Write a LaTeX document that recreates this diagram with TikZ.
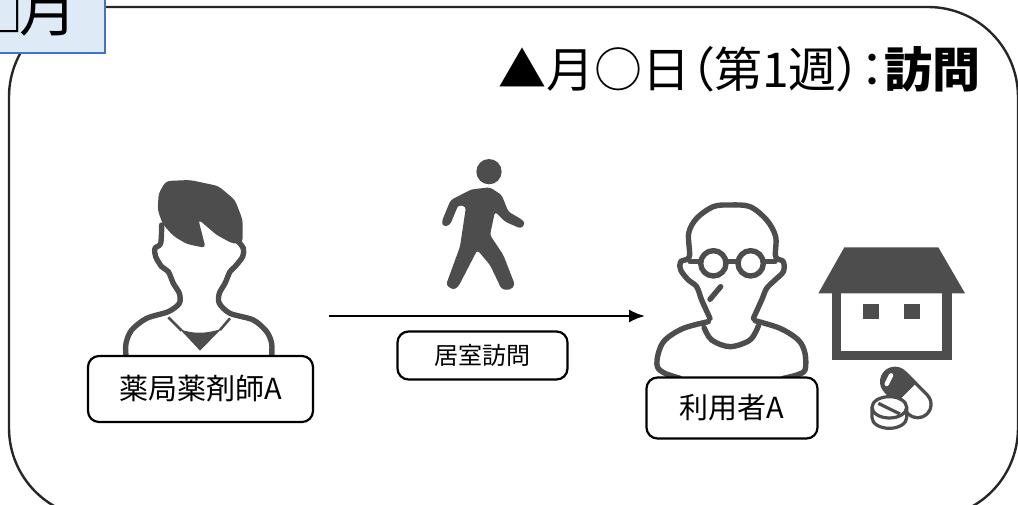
\documentclass[tikz,border=0pt]{standalone}
\usepackage{fontspec}
\setmainfont{Noto Sans CJK JP}
\newfontfamily\titlefont{Noto Sans CJK JP}[RawFeature=+palt]
\usetikzlibrary{arrows.meta}
\definecolor{icongray}{HTML}{4D4D4D}
\definecolor{labelblue}{HTML}{DEEAF6}
\definecolor{labelline}{HTML}{4472C4}
\tikzset{
    namebox/.style={draw=black,line width=2.2pt,rounded corners=11pt,fill=white,align=center,inner sep=0pt},
    iconline/.style={draw=icongray,line width=5.4pt,line join=round,line cap=round},
    iconfill/.style={fill=icongray,draw=none},
}
\begin{document}
\begin{tikzpicture}[x=1pt,y=-1pt]
    \useasboundingbox (0,0) rectangle (1018,505);
    % outer frame
    \draw[line width=2.4pt,color=black!85,rounded corners=90pt] (9,7) rectangle (1018,518);
    \node[draw=labelline,fill=labelblue,line width=1.6pt,minimum width=166pt,minimum height=84pt,inner sep=0pt] (monthlabel) at (22,11)
        {\fontsize{58}{58}\selectfont □\kern-5pt 月};
    \node[anchor=base east,inner sep=0pt] (titletext) at (981,88)
        {\fontsize{48}{48}\selectfont ▲月○日{\titlefont （}第1週{\titlefont ）：}{\bfseries 訪問}};

    % pharmacist
    \begin{scope}[shift={(90,160)},scale=1/3]
        \draw[iconline] plot[smooth,tension=0.5] coordinates {(215,195) (212,250) (195,265) (197,290) (215,320) (235,335) (250,370) (268,400) (268,430) (235,455) (170,475) (125,510) (108,550) (108,590)};
        \draw[iconline] plot[smooth,tension=0.5] coordinates {(445,245) (460,265) (458,290) (435,320) (420,335) (405,370) (388,400) (388,430) (420,460) (490,480) (530,515) (545,550) (545,590)};
        \draw[draw=icongray,line width=2.6pt] (235,472) -- (275,512);
        \draw[draw=icongray,line width=2.6pt] (420,475) -- (390,510);
        \fill[iconfill] (270,508) .. controls (310,522) and (350,522) .. (395,506) -- (330,572) -- cycle;
        \fill[iconfill,rounded corners=4pt] (228,63) -- (300,60) -- (385,78) -- (435,120) -- (458,180) -- (458,248) -- (430,252) -- (380,225) -- (325,178) -- (347,264) -- (290,252) -- (250,228) -- (218,192) -- (203,150) -- (206,100) -- cycle;
    \end{scope}
    \node[namebox,minimum width=225pt,minimum height=66pt] (pharmacistbox) at (200.5,389)
        {\fontsize{29}{29}\selectfont 薬局薬剤師A};

    % walker
    \begin{scope}[shift={(390,150)},scale=1/3]
        \fill[iconfill] (297,65) circle (38);
        \fill[iconfill,rounded corners=3pt] (245,118) -- (300,112) -- (335,135) -- (355,185) -- (398,210) -- (405,222) -- (393,236) -- (345,215) -- (315,185) -- (300,255) -- (340,315) -- (375,405) -- (360,420) -- (335,418) -- (300,345) -- (262,300) -- (205,410) -- (190,420) -- (168,405) -- (210,290) -- (228,170) -- (205,165) -- (180,225) -- (160,230) -- (155,215) -- (182,150) -- cycle;
    \end{scope}
    \coordinate (walkstart) at (329,316);
    \coordinate (walkend) at (645,316);
    \draw[line width=2.2pt,-{Latex[length=16pt,width=13pt]}] (walkstart) -- (walkend);
    \node[namebox,minimum width=170pt,minimum height=48pt] (visitbox) at (482.5,355.5)
        {\fontsize{24}{24}\selectfont 居室訪問};

    % patient
    \begin{scope}[shift={(630,190)},scale=1/3]
        \draw[iconline] plot[smooth,tension=0.55] coordinates {(240,385) (215,330) (200,290) (175,270) (152,240) (152,215) (178,200) (176,130) (200,85) (250,50) (300,45) (360,50) (410,90) (437,140) (437,200) (460,215) (460,245) (435,270) (410,295) (395,330) (370,385)};
        \draw[iconline] plot[smooth,tension=0.55] coordinates {(235,395) (160,415) (105,450) (85,490) (82,530) (105,550) (150,565)};
        \draw[iconline] plot[smooth,tension=0.55] coordinates {(375,392) (450,415) (505,450) (525,490) (525,540) (500,555) (460,565)};
        \draw[iconline] plot[smooth,tension=0.55] coordinates {(222,412) (245,450) (300,470) (360,450) (385,408)};
        \draw[iconline] (250,220) circle (38);
        \draw[iconline] (362,220) circle (38);
        \draw[iconline] (290,215) -- (322,215);
        \draw[iconline] (180,215) -- (212,215);
        \draw[iconline] (400,215) -- (435,215);
        \draw[iconline] (240,328) -- (272,290);
    \end{scope}
    \node[namebox,minimum width=171pt,minimum height=61pt] (patientbox) at (732,408)
        {\fontsize{29}{29}\selectfont 利用者A};

    % house and medicine
    \begin{scope}[shift={(630,190)},scale=1/3]
        \fill[iconfill] (643,172) -- (925,172) -- (1005,310) -- (565,310) -- cycle;
        \draw[draw=icongray,line width=9.5pt] (619,300) -- (619,497) -- (951,497) -- (951,300);
        \fill[iconfill] (700,342) rectangle (748,388);
        \fill[iconfill] (822,342) rectangle (870,388);
        \draw[icongray,line width=30pt,line cap=round] (795,575) -- (863,643);
        \draw[white,line width=23.4pt,line cap=round] (829,609) -- (863,643);
        \draw[icongray,line width=30pt] (795,575) -- (829,609);
        \draw[white,line width=4.4pt,line cap=round] (770,582) -- (783,556);
        \filldraw[fill=white,draw=icongray,line width=3.2pt] (726,652) -- (726,683) arc[start angle=180,end angle=0,x radius=52,y radius=32] -- (830,652);
        \filldraw[fill=white,draw=icongray,line width=3.2pt] (778,652) ellipse (52 and 32);
        \draw[icongray,line width=3.2pt] (745,640) -- (810,672);
    \end{scope}
\end{tikzpicture}
\end{document}
